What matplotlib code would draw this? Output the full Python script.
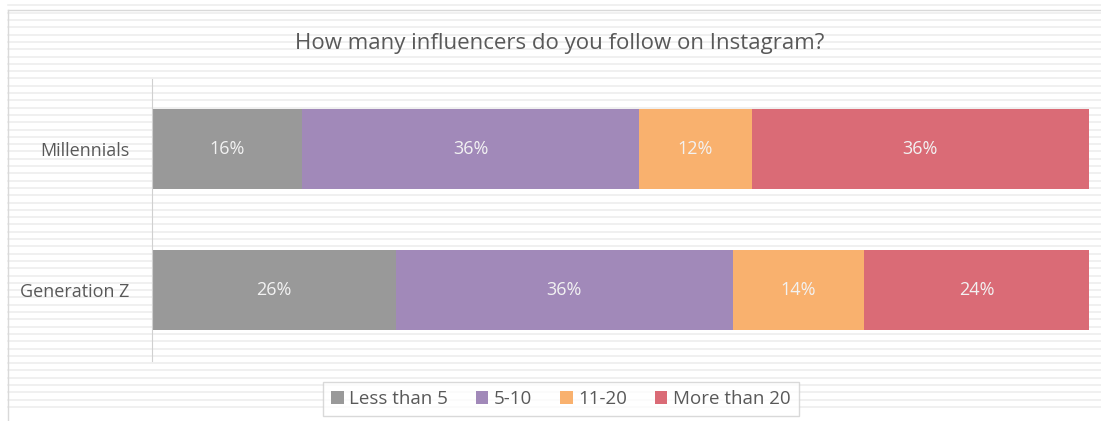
import numpy as np
import matplotlib.pyplot as plt
from matplotlib.lines import Line2D

plt.rcParams['font.family'] = ['Open Sans', 'DejaVu Sans']

# data
groups = ['Millennials', 'Generation Z']
series_names = ['Less than 5', '5-10', '11-20', 'More than 20']
values = {
    'Less than 5': [16, 26],
    '5-10': [36, 36],
    '11-20': [12, 14],
    'More than 20': [36, 24],
}
colors = ['#999999', '#A189B9', '#F9B16E', '#DA6B76']
title = 'How many influencers do you follow on Instagram?'

W, H = 1101, 421
fig = plt.figure(figsize=(W / 100, H / 100), dpi=100)
fig.patch.set_facecolor('white')

# striped background inside a thin frame
for y in np.arange(H - 14, 0, -7.3):
    fig.add_artist(Line2D([8 / W, 1], [1 - y / H, 1 - y / H], color='#eeeeee', lw=1.2, zorder=0))
fig.add_artist(Line2D([8 / W, 8 / W], [0, 1 - 10 / H], color='#d9d9d9', lw=1.0, zorder=1))
fig.add_artist(Line2D([8 / W, 1], [1 - 10 / H, 1 - 10 / H], color='#d9d9d9', lw=1.0, zorder=1))

ax = fig.add_axes([152 / W, 1 - 360.5 / H, (1089 - 152) / W, (360.5 - 78.5) / H])
ax.patch.set_alpha(0)

ypos = np.arange(len(groups))
left = np.zeros(len(groups))
for name, c in zip(series_names, colors):
    vals = np.array(values[name])
    bars = ax.barh(ypos, vals, left=left, height=0.567, color=c, label=name)
    for b, v in zip(bars, vals):
        ax.text(b.get_x() + b.get_width() / 2, b.get_y() + b.get_height() / 2,
                f'{v}%', ha='center', va='center', color='#f2f2f2', fontsize=13)
    left += vals

ax.set_xlim(0, 100)
ax.set_ylim(len(groups) - 0.5, -0.5)
ax.set_yticks(ypos)
ax.set_yticklabels(groups, fontsize=13, color='#595959')
ax.tick_params(axis='y', length=0, pad=16)
ax.set_xticks([])
for s in ['top', 'right', 'bottom']:
    ax.spines[s].set_visible(False)
ax.spines['left'].set_color('#d0d0d0')

fig.text(560 / W, 1 - 43 / H, title, ha='center', va='center', fontsize=16, color='#595959')

leg = fig.legend(loc='center', bbox_to_anchor=(561 / W, 1 - 399 / H), ncol=4, frameon=True,
                 fontsize=13.5, handlelength=0.65, handleheight=0.65, handletextpad=0.3,
                 columnspacing=1.5, borderpad=0.45, fancybox=False, labelcolor='#595959')
leg.get_frame().set_edgecolor('#d0d0d0')
leg.get_frame().set_linewidth(1.0)

fig.savefig('out.png', dpi=100)
